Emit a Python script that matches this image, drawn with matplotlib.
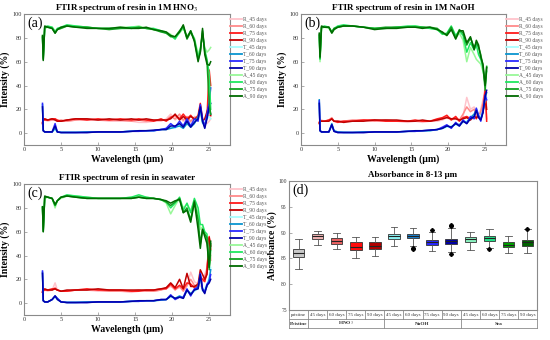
import matplotlib
matplotlib.use("Agg")
import matplotlib.pyplot as plt
import matplotlib.transforms as mtrans
from matplotlib.lines import Line2D

plt.rcParams['font.family'] = ['Liberation Serif', 'DejaVu Serif']
plt.rcParams['mathtext.fontset'] = 'stix'

# ---------------- data ----------------
WL = [2.5, 2.6, 2.8, 3.2, 3.8, 4.2, 4.5, 5.0, 5.8, 7.0, 8.5, 10, 11.5, 13, 14.5, 15.5, 16.5,
      17.5, 18.5, 19.2, 19.8, 20.4, 21.0, 21.5, 22.0, 22.5, 23.0, 23.5, 23.8, 24.1, 24.4, 24.7, 25.0, 25.2]

LABELS = ['R_45 days', 'R_60 days', 'R_75 days', 'R_90 days',
          'T_45 days', 'T_60 days', 'T_75 days', 'T_90 days',
          'A_45 days', 'A_60 days', 'A_75 days', 'A_90 days']
COLORS = ['#FFC4CC', '#FF8A8A', '#FF1A1A', '#C00000',
          '#A8FFFF', '#0A95D0', '#2A2AFF', '#0000A8',
          '#98F898', '#20E860', '#10A020', '#006A00']

# panel (a): 1M HNO3
a_R45 = [9, 11, 11, 10, 11, 11, 10, 10, 10, 11, 11, 11, 10, 10, 10, 9, 9, 10, 10, 12, 16, 11, 14, 10, 13, 9, 14, 12, 18, 10, 12, 8, 10, 12]
a_R60 = [8, 12, 12, 11, 11, 12, 10, 11, 10, 11, 12, 11, 11, 11, 10, 11, 10, 11, 11, 11, 14, 12, 16, 11, 14, 10, 13, 14, 20, 9, 10, 12, 15, 14]
a_R75 = [9, 12, 11, 11, 12, 12, 11, 10, 11, 12, 11, 12, 11, 12, 11, 12, 11, 10, 12, 10, 13, 15, 12, 16, 12, 15, 11, 15, 25, 12, 8, 14, 53, 40]
a_R90 = [8, 11, 12, 11, 12, 11, 10, 10, 11, 12, 12, 11, 12, 11, 12, 11, 12, 11, 11, 11, 12, 16, 11, 14, 11, 14, 12, 13, 23, 10, 12, 18, 24, 15]
a_T45 = [20, 3, 1, 1, 1, 3, 1, 1, 1, 1, 1, 1, 1, 1, 2, 2, 2, 2, 3, 4, 5, 4, 8, 5, 9, 6, 10, 12, 18, 8, 10, 12, 14, 12]
a_T60 = [24, 2, 1, 1, 1, 4, 1, 0.5, 0.5, 0.5, 1, 1, 1, 1, 1.5, 2, 2, 2, 3, 3, 4, 5, 6, 4, 8, 5, 8, 14, 20, 9, 6, 14, 20, 16]
a_T75 = [25, 2, 1, 1, 1, 8, 1, 0.5, 0.5, 0.5, 0.5, 1, 1, 1, 1.5, 1.5, 2, 2, 3, 4, 8, 5, 10, 6, 12, 6, 12, 10, 24, 12, 5, 16, 26, 38]
a_T90 = [22, 2, 1, 1, 1, 6, 1, 0.5, 0.5, 0.5, 0.5, 1, 1, 1, 1.5, 2, 2, 2.5, 3, 3, 6, 6, 8, 5, 10, 5, 9, 12, 22, 10, 4, 12, 22, 25]
a_A45 = [82, 64, 88, 89, 89, 86, 87, 88, 90, 90, 89, 88, 88, 89, 89, 90, 88, 87, 86, 85, 83, 80, 84, 88, 82, 84, 80, 66, 72, 80, 72, 68, 70, 72]
a_A60 = [80, 63, 89, 90, 89, 85, 88, 89, 91, 90, 89, 88, 88, 88, 89, 89, 88, 88, 86, 84, 82, 79, 85, 89, 80, 86, 79, 64, 70, 84, 70, 62, 50, 20]
a_A75 = [81, 62, 89, 89, 88, 84, 87, 88, 90, 89, 89, 88, 87, 88, 88, 89, 88, 87, 85, 84, 81, 81, 86, 90, 79, 85, 78, 62, 68, 86, 68, 60, 25, 16]
a_A90 = [82, 61, 90, 89, 88, 84, 87, 89, 90, 89, 88, 88, 88, 89, 88, 88, 89, 87, 86, 85, 82, 81, 85, 91, 80, 86, 77, 60, 68, 88, 66, 58, 57, 60]

# panel (b): 1M NaOH
b_R45 = [9, 11, 11, 10, 10, 12, 10, 10, 10, 10, 11, 10, 10, 10, 9, 10, 9, 10, 10, 11, 13, 11, 12, 10, 14, 30, 20, 22, 18, 15, 20, 28, 35, 22]
b_R60 = [8, 10, 10, 10, 11, 13, 10, 10, 10, 11, 11, 10, 11, 10, 10, 10, 10, 10, 11, 12, 14, 12, 13, 11, 16, 22, 18, 20, 15, 14, 18, 25, 38, 12]
b_R75 = [9, 11, 10, 10, 11, 12, 10, 9, 10, 10, 11, 11, 10, 10, 10, 11, 10, 10, 12, 13, 15, 11, 14, 10, 13, 14, 12, 15, 12, 16, 14, 20, 36, 10]
b_R90 = [8, 10, 10, 10, 10, 12, 10, 10, 9, 10, 10, 11, 11, 11, 10, 10, 11, 10, 11, 12, 13, 12, 12, 11, 12, 13, 11, 14, 13, 15, 13, 18, 30, 20]
b_T45 = [26, 3, 1, 1, 1, 6, 2, 1, 1, 0.5, 1, 1, 1, 1, 1.5, 2, 2, 2, 3, 4, 5, 6, 7, 6, 9, 10, 12, 15, 18, 16, 14, 20, 28, 30]
b_T60 = [28, 2, 1, 1, 1, 8, 2, 1, 0.5, 0.5, 1, 1, 1, 1, 1.5, 1.5, 2, 2, 3, 4, 6, 5, 8, 7, 10, 9, 13, 16, 20, 14, 12, 18, 30, 34]
b_T75 = [27, 2, 1, 1, 1, 7, 1.5, 0.5, 0.5, 0.5, 0.5, 1, 1, 1, 1.5, 1.5, 2, 2.5, 3, 5, 7, 4, 9, 6, 11, 8, 14, 12, 21, 15, 10, 19, 32, 28]
b_T90 = [25, 2, 1, 1, 1, 7, 1.5, 0.5, 0.5, 0.5, 0.5, 1, 1, 1, 1.5, 2, 2, 2.5, 3, 4, 6, 5, 8, 6, 10, 8, 12, 14, 19, 13, 11, 17, 31, 36]
b_A45 = [80, 60, 88, 89, 88, 84, 87, 89, 90, 90, 89, 88, 88, 89, 89, 90, 89, 88, 87, 84, 82, 88, 80, 84, 78, 60, 72, 66, 62, 60, 58, 52, 45, 56]
b_A60 = [82, 62, 89, 90, 89, 85, 88, 90, 91, 90, 89, 88, 88, 89, 90, 90, 89, 88, 87, 83, 84, 90, 82, 86, 82, 68, 76, 70, 74, 66, 62, 55, 40, 52]
b_A75 = [83, 63, 89, 89, 89, 85, 88, 89, 90, 90, 89, 88, 89, 89, 89, 89, 89, 89, 88, 84, 83, 89, 80, 87, 84, 74, 80, 72, 76, 72, 66, 56, 36, 56]
b_A90 = [84, 64, 90, 89, 89, 84, 87, 89, 90, 90, 89, 87, 88, 88, 89, 89, 88, 89, 87, 85, 82, 87, 79, 86, 86, 76, 81, 70, 78, 74, 64, 58, 40, 55]

# panel (c): seawater
c_R45 = [10, 11, 11, 10, 11, 17, 11, 10, 10, 11, 11, 10, 10, 10, 9, 10, 10, 10, 11, 12, 14, 12, 13, 11, 14, 26, 18, 16, 14, 20, 24, 30, 50, 40]
c_R60 = [9, 10, 11, 11, 11, 13, 11, 10, 10, 11, 11, 11, 10, 10, 10, 11, 10, 10, 11, 13, 15, 11, 14, 10, 15, 20, 15, 14, 18, 18, 22, 28, 54, 36]
c_R75 = [10, 11, 11, 11, 12, 12, 11, 10, 10, 11, 12, 11, 11, 11, 10, 10, 11, 11, 12, 12, 16, 12, 15, 12, 17, 16, 13, 15, 22, 20, 18, 26, 56, 45]
c_R90 = [9, 11, 12, 11, 11, 12, 11, 10, 11, 11, 11, 12, 11, 11, 11, 11, 11, 11, 12, 13, 17, 13, 20, 12, 25, 14, 14, 16, 28, 24, 20, 24, 55, 48]
c_T45 = [22, 3, 1, 1, 3, 5, 3, 1, 1, 1, 1, 1, 1, 1, 1.5, 2, 2, 2, 2.5, 3, 5, 4, 6, 5, 10, 7, 10, 12, 20, 10, 12, 16, 22, 30]
c_T60 = [26, 2, 1, 1, 3, 6, 4, 1, 0.5, 0.5, 1, 1, 1, 1, 1.5, 1.5, 2, 2, 2.5, 3, 6, 4, 6, 4, 11, 8, 11, 14, 22, 12, 10, 14, 20, 28]
c_T75 = [27, 2, 1, 1, 3, 6, 4, 1, 0.5, 0.5, 0.5, 1, 1, 1, 1.5, 1.5, 2, 2, 3, 3, 7, 3, 5, 5, 12, 6, 12, 13, 25, 12, 9, 16, 18, 24]
c_T90 = [25, 2, 1, 1, 3, 6, 3, 1, 0.5, 0.5, 0.5, 1, 1, 1, 1.5, 2, 2, 2, 3, 3, 6, 4, 5, 4, 11, 7, 11, 12, 24, 11, 8, 15, 17, 20]
c_A45 = [80, 62, 88, 89, 88, 80, 86, 88, 90, 90, 89, 88, 88, 88, 89, 90, 89, 88, 87, 84, 75, 82, 88, 80, 83, 78, 86, 75, 62, 64, 58, 56, 32, 40]
c_A60 = [81, 61, 89, 89, 88, 82, 86, 89, 91, 90, 89, 88, 88, 88, 89, 91, 89, 88, 87, 85, 80, 84, 89, 78, 84, 76, 88, 80, 66, 66, 60, 58, 30, 44]
c_A75 = [80, 60, 89, 89, 88, 82, 86, 89, 90, 89, 88, 88, 88, 88, 88, 89, 88, 88, 87, 85, 82, 85, 88, 76, 80, 70, 86, 70, 50, 62, 58, 55, 28, 50]
c_A90 = [81, 60, 90, 89, 88, 83, 86, 89, 90, 89, 88, 88, 88, 88, 88, 89, 88, 88, 87, 86, 84, 86, 87, 76, 78, 68, 85, 62, 46, 62, 56, 50, 30, 52]

# panel (d): absorbance box statistics (8-13 um)
BOX_NAMES = ['pristine', '45 days', '60 days', '75 days', '90 days',
             '45 days', '60 days', '75 days', '90 days',
             '45 days', '60 days', '75 days', '90 days']
GROUPS = ['Pristine', r'HNO$_3$', 'NaOH', 'Sea']
GROUP_SPANS = [1, 4, 4, 4]
BOX_COLORS = ['#C8C8C8', '#F2B2B2', '#EC6262', '#FF0A0A', '#B00000',
              '#8AF2F2', '#1A82D0', '#2828FF', '#0000A8',
              '#8AF2C0', '#22E288', '#00A000', '#006400']
MED = [86.0, 89.3, 88.4, 87.3, 87.4, 89.3, 89.4, 88.2, 88.4, 88.7, 88.9, 87.7, 88.1]
Q1 = [85.2, 88.8, 87.9, 86.7, 86.8, 88.8, 88.9, 87.7, 87.9, 88.2, 88.3, 87.3, 87.5]
Q3 = [86.8, 89.8, 88.9, 88.1, 88.1, 89.8, 89.8, 88.6, 88.8, 89.1, 89.4, 88.1, 88.6]
WLO = [83.0, 87.6, 86.8, 85.0, 85.5, 87.5, 87.4, 86.4, 86.2, 86.7, 87.0, 86.0, 86.0]
WHI = [88.8, 90.4, 90.0, 89.2, 89.2, 91.2, 91.0, 90.2, 91.0, 90.2, 90.8, 89.4, 90.7]
FLIERS = [[], [], [], [], [], [], [86.8, 87.1], [90.5], [91.3, 91.5, 85.8], [], [86.8], [], [90.8]]

SPECTRA = {
    'a': ([a_R45, a_R60, a_R75, a_R90, a_T45, a_T60, a_T75, a_T90, a_A45, a_A60, a_A75, a_A90],
          r'FTIR spectrum of resin in 1M HNO$_3$'),
    'b': ([b_R45, b_R60, b_R75, b_R90, b_T45, b_T60, b_T75, b_T90, b_A45, b_A60, b_A75, b_A90],
          'FTIR spectrum of resin in 1M NaOH'),
    'c': ([c_R45, c_R60, c_R75, c_R90, c_T45, c_T60, c_T75, c_T90, c_A45, c_A60, c_A75, c_A90],
          'FTIR spectrum of resin in seawater'),
}

# ---------------- figure ----------------
fig = plt.figure(figsize=(5.5, 3.4), dpi=100)
FRAME = '#8A8A8A'
TICKC = '#333333'

def style_axes(ax):
    for s in ax.spines.values():
        s.set_color(FRAME)
        s.set_linewidth(0.8)
    ax.tick_params(direction='in', length=2, width=0.5, colors=FRAME,
                   labelsize=4.5, labelcolor=TICKC, pad=1.5)

def spectrum(rect, key, letter):
    series, title = SPECTRA[key]
    ax = fig.add_axes(rect)
    for ys, col, lab in zip(series, COLORS, LABELS):
        ax.plot(WL, ys, color=col, lw=1.1, label=lab)
    ax.set_xlim(0, 27.8)
    ax.set_ylim(-10, 100)
    ax.set_xticks([0, 5, 10, 15, 20, 25])
    ax.set_yticks([0, 20, 40, 60, 80, 100])
    style_axes(ax)
    ax.set_title(title, fontsize=6.5, fontweight='bold', pad=3)
    ax.set_xlabel('Wavelength (μm)', fontsize=7, fontweight='bold', labelpad=2)
    ax.set_ylabel('Intensity (%)', fontsize=7, fontweight='bold', labelpad=2)
    ax.text(0.015, 0.985, letter, transform=ax.transAxes, fontsize=10,
            va='top', ha='left')
    leg = ax.legend(loc='upper left', bbox_to_anchor=(0.995, 0.985), frameon=False,
                    fontsize=4.0, handlelength=2.1, handletextpad=0.3,
                    labelspacing=0.36, borderaxespad=0.1, borderpad=0.1)
    for t in leg.get_texts():
        t.set_color('#555555')
    for h in leg.get_lines():
        h.set_linewidth(1.3)
    return ax

spectrum([0.0436, 0.5735, 0.3745, 0.385], 'a', '(a)')
spectrum([0.547, 0.5735, 0.3727, 0.385], 'b', '(b)')
spectrum([0.0436, 0.0735, 0.3745, 0.385], 'c', '(c)')

# ---------------- panel d ----------------
axd = fig.add_axes([0.5255, 0.0882, 0.4509, 0.379])
stats = []
for i in range(len(MED)):
    stats.append(dict(med=MED[i], q1=Q1[i], q3=Q3[i], whislo=WLO[i], whishi=WHI[i],
                      fliers=FLIERS[i]))
pos = list(range(1, len(MED) + 1))
bp = axd.bxp(stats, positions=pos, widths=0.6, patch_artist=True, showfliers=True,
             boxprops=dict(linewidth=0.6, edgecolor='#333333'),
             medianprops=dict(color='#222222', linewidth=0.8),
             whiskerprops=dict(color='#555555', linewidth=0.6),
             capprops=dict(color='#555555', linewidth=0.6),
             capwidths=0.35,
             flierprops=dict(marker='P', markersize=2.5, markerfacecolor='black',
                             markeredgecolor='black'))
for patch, col in zip(bp['boxes'], BOX_COLORS):
    patch.set_facecolor(col)
axd.set_xlim(0.5, len(MED) + 0.5)
axd.set_ylim(75, 100)
axd.set_yticks([75, 80, 85, 90, 95, 100])
axd.set_xticks([])
style_axes(axd)
axd.tick_params(labelsize=4)
axd.set_title('Absorbance in 8-13 μm', fontsize=6.5, fontweight='bold', pad=3)
axd.set_ylabel('Absorbance (%)', fontsize=7, fontweight='bold', labelpad=1)
axd.text(0.015, 0.985, '(d)', transform=axd.transAxes, fontsize=10, va='top', ha='left')

# table under the box plot
tr = mtrans.blended_transform_factory(axd.transData, axd.transAxes)
rh = 0.07
x0, x1 = 0.5, len(MED) + 0.5
lkw = dict(color=FRAME, lw=0.6, transform=tr, clip_on=False)
for yy in [-rh, -2 * rh]:
    axd.add_line(Line2D([x0, x1], [yy, yy], **lkw))
axd.add_line(Line2D([x0, x0], [0, -2 * rh], **lkw))
axd.add_line(Line2D([x1, x1], [0, -2 * rh], **lkw))
for i, name in enumerate(BOX_NAMES):
    xc = pos[i]
    if i > 0:
        axd.add_line(Line2D([xc - 0.5, xc - 0.5], [0, -rh], **lkw))
    axd.text(xc, -rh / 2, name, transform=tr, fontsize=3.6, ha='center', va='center',
             color='#333333')
start = 0.5
for g, span in zip(GROUPS, GROUP_SPANS):
    end = start + span
    if start > 0.5:
        axd.add_line(Line2D([start, start], [-rh, -2 * rh], **lkw))
    axd.text((start + end) / 2, -1.5 * rh, g, transform=tr, fontsize=3.8,
             fontweight='bold', ha='center', va='center', color='#333333')
    start = end

fig.savefig('out.png', dpi=100)
